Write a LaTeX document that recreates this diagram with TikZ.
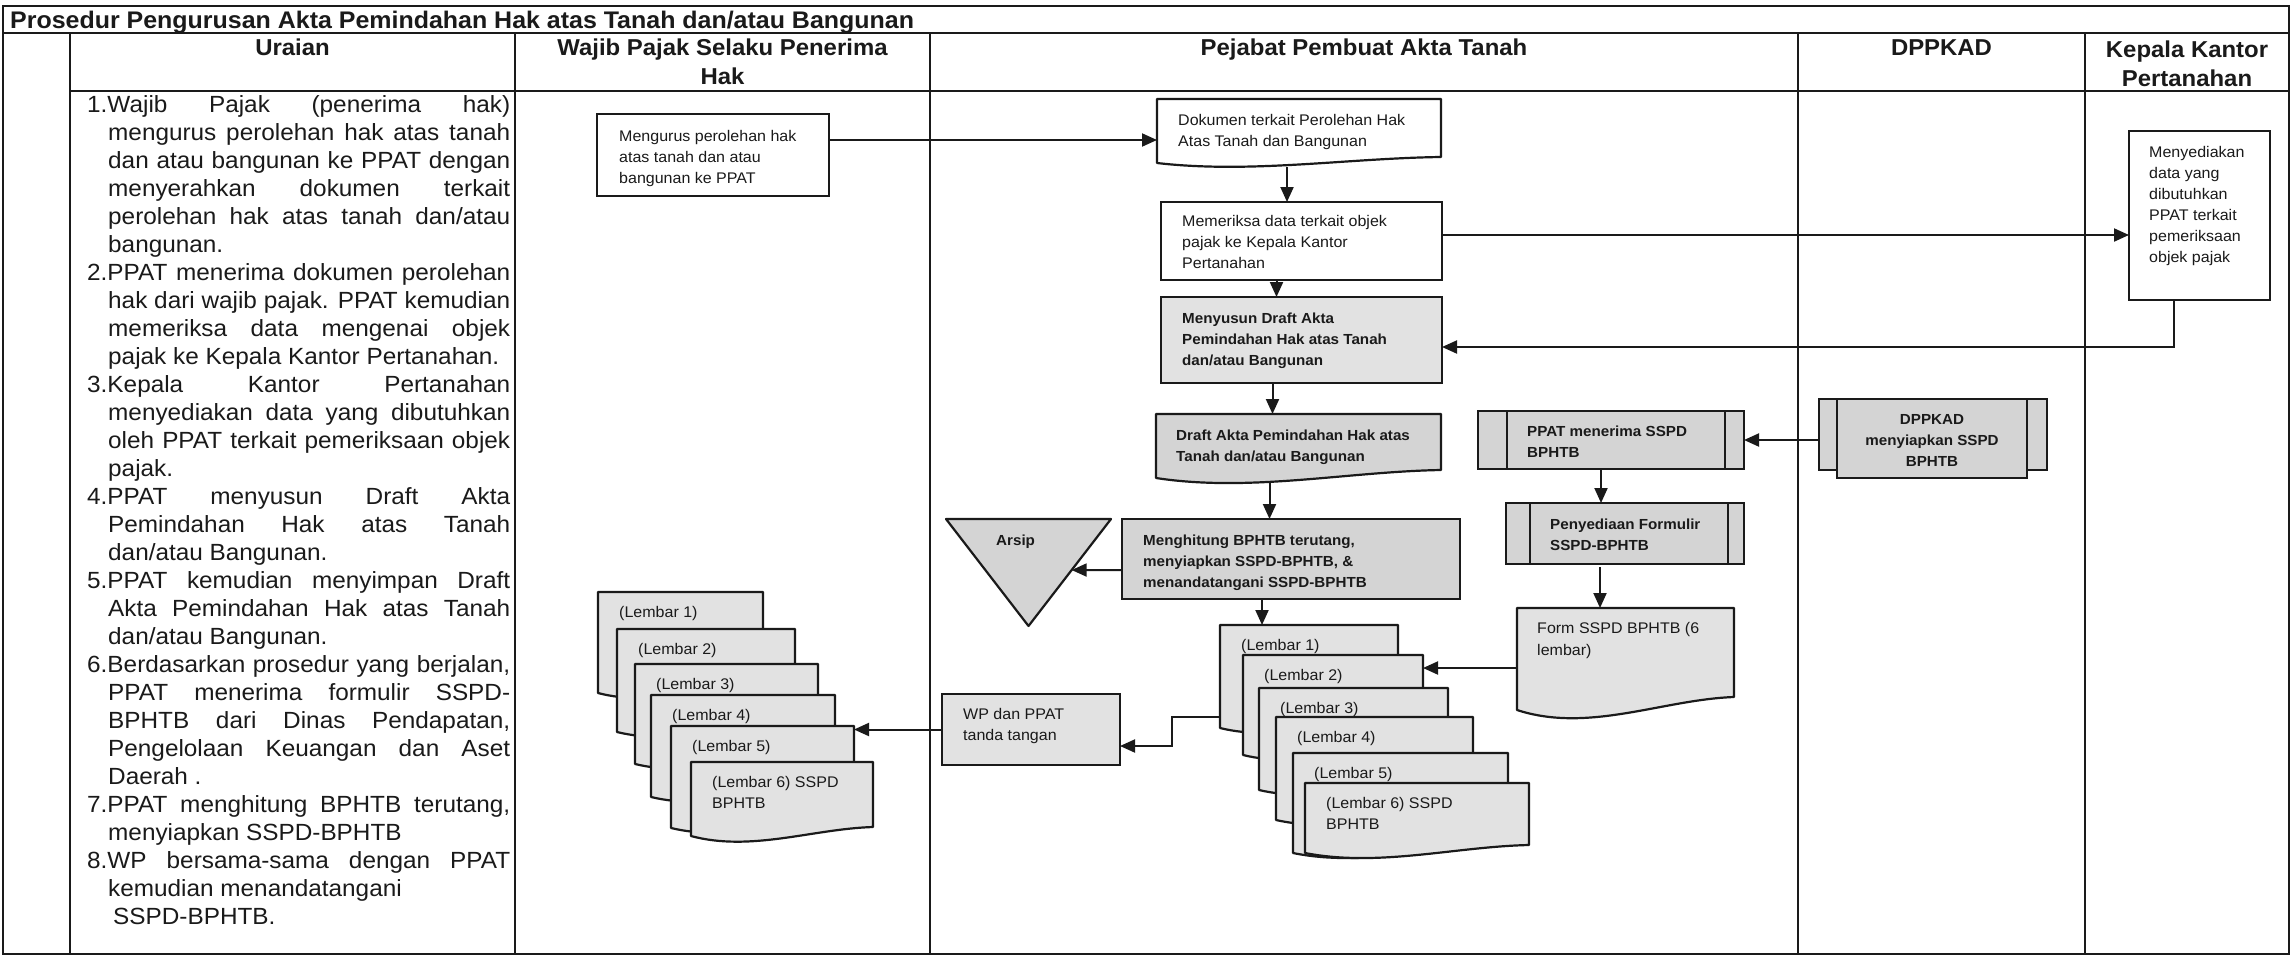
\documentclass[tikz,border=0pt]{standalone}
\usepackage{fontspec}
\setmainfont{Liberation Sans}[FakeStretch=1.04]
\usetikzlibrary{arrows.meta,calc,backgrounds}

\definecolor{ink}{HTML}{1A1A1A}
\definecolor{shade}{HTML}{D4D4D4}
\definecolor{shadelt}{HTML}{E2E2E2}

% document symbol with a wavy lower edge, drawn round a named frame node
\newcommand\docoutline[3]{%
  \path[docline,fill=#3] (#1.north west) -- (#1.north east)
    -- ($(#1.south east)+(0,-#2)$)
    .. controls ($(#1.south west)!0.67!(#1.south east)+(0,-0.8*#2)$)
       and ($(#1.south west)!0.33!(#1.south east)+(0,1.8*#2)$) .. (#1.south west) -- cycle;}

\newcommand\itemhang{\hangindent=21pt\hangafter=1\relax}

\begin{document}
\begin{tikzpicture}[x=1pt,y=-1pt,
  grid/.style={draw=ink,line width=2pt},
  frame/.style={inner sep=0pt,outer sep=0pt,anchor=north west},
  plainbox/.style={frame,draw=ink,line width=1.6pt,fill=white},
  shadebox/.style={frame,draw=ink,line width=2.2pt,fill=#1},
  shadebox/.default=shade,
  docline/.style={draw=ink,line width=2.2pt,line join=round},
  procline/.style={draw=ink,line width=2.2pt},
  txt/.style={inner sep=0pt,anchor=north west,align=left,text=ink,
              font=\fontsize{15.4}{21}\selectfont},
  txtb/.style={txt,font=\fontsize{14.6}{21}\selectfont\bfseries},
  head/.style={inner sep=0pt,text=ink,font=\fontsize{23}{29}\selectfont\bfseries},
  arr/.style={draw=ink,line width=2pt,-{Triangle[length=15pt,width=13pt]}},
]
\useasboundingbox (0,0) rectangle (2294,959);
\begin{scope}[on background layer]
  \fill[white] (0,0) rectangle (2294,959);
\end{scope}

% ---------- table ----------
\draw[grid] (3,6) rectangle (2289,954);
\draw[grid] (3,33) -- (2289,33);
\draw[grid] (70,91) -- (2289,91);
\foreach \x in {70,515,930,1798,2085} \draw[grid] (\x,33) -- (\x,954);

\node[head,anchor=base west,font=\fontsize{24}{30}\selectfont\bfseries] (title) at (10,28.5)
  {Prosedur Pengurusan Akta Pemindahan Hak atas Tanah dan/atau Bangunan};
\node[head,anchor=base] (h-uraian) at (292.5,55.5) {Uraian};
\node[head,anchor=north,align=center] (h-wp) at (722.5,39) {Wajib Pajak Selaku Penerima\\Hak};
\node[head,anchor=base] (h-ppat) at (1364,55.5) {Pejabat Pembuat Akta Tanah};
\node[head,anchor=base] (h-dppkad) at (1941.5,55.5) {DPPKAD};
\node[head,anchor=north,align=center] (h-kkp) at (2187,41) {Kepala Kantor\\Pertanahan};

% ---------- description column ----------
\node[anchor=north west,inner sep=0pt,text width=423pt,align=justify,text=ink,
      font=\fontsize{23.4}{28}\selectfont] (uraian) at (87,95) {%
\tolerance=10000 \hbadness=10000 \hyphenpenalty=10000 \exhyphenpenalty=10000
\parindent=0pt \parskip=0pt
\itemhang 1.Wajib Pajak (penerima hak)\linebreak
mengurus perolehan hak atas tanah\linebreak
dan atau bangunan ke PPAT dengan\linebreak
menyerahkan dokumen terkait\linebreak
perolehan hak atas tanah dan/atau\linebreak
bangunan.\par
\itemhang 2.PPAT menerima dokumen perolehan\linebreak
hak dari wajib pajak. PPAT kemudian\linebreak
memeriksa data mengenai objek\linebreak
pajak ke Kepala Kantor Pertanahan.\par
\itemhang 3.Kepala Kantor Pertanahan\linebreak
menyediakan data yang dibutuhkan\linebreak
oleh PPAT terkait pemeriksaan objek\linebreak
pajak.\par
\itemhang 4.PPAT menyusun Draft Akta\linebreak
Pemindahan Hak atas Tanah\linebreak
dan/atau Bangunan.\par
\itemhang 5.PPAT kemudian menyimpan Draft\linebreak
Akta Pemindahan Hak atas Tanah\linebreak
dan/atau Bangunan.\par
\itemhang 6.Berdasarkan prosedur yang berjalan,\linebreak
PPAT menerima formulir SSPD-\linebreak
BPHTB dari Dinas Pendapatan,\linebreak
Pengelolaan Keuangan dan Aset\linebreak
Daerah .\par
\itemhang 7.PPAT menghitung BPHTB terutang,\linebreak
menyiapkan SSPD-BPHTB\par
\itemhang 8.WP bersama-sama dengan PPAT\linebreak
kemudian menandatangani\newline
\hspace*{5pt}SSPD-BPHTB.\par};

% ---------- shapes ----------
\node[plainbox,minimum width=232pt,minimum height=82pt] (mengurus) at (597,114) {};
\node[frame,minimum width=284pt,minimum height=64pt] (dok) at (1157,99) {};
\node[plainbox,minimum width=281pt,minimum height=78pt] (periksa) at (1161,202) {};
\node[shadebox=shadelt,minimum width=281pt,minimum height=86pt] (susun) at (1161,297) {};
\node[frame,minimum width=285pt,minimum height=64pt] (draft) at (1156,414) {};
\node[shadebox,minimum width=338pt,minimum height=80pt] (hitung) at (1122,519) {};
\node[frame,minimum width=165pt,minimum height=107pt] (arsip) at (946,519) {};
\node[plainbox,minimum width=141pt,minimum height=169pt] (sedia) at (2129,131) {};
\node[shadebox,minimum width=266pt,minimum height=58pt] (terima) at (1478,411) {};
\node[shadebox,minimum width=238pt,minimum height=61pt] (formulir) at (1506,503) {};
\node[frame,minimum width=217pt,minimum height=102pt] (form) at (1517,608) {};
\node[shadebox,minimum width=228pt,minimum height=71pt] (dppkad) at (1819,399) {};
\node[shadebox=shadelt,minimum width=178pt,minimum height=71pt] (ttd) at (942,694) {};

% stacked copies of the form
\node[frame,minimum width=165pt,minimum height=101pt] (w1) at (598,592) {};
\node[frame,minimum width=178pt,minimum height=103pt] (w2) at (617,629) {};
\node[frame,minimum width=183pt,minimum height=100pt] (w3) at (635,664) {};
\node[frame,minimum width=184pt,minimum height=102pt] (w4) at (651,695) {};
\node[frame,minimum width=183pt,minimum height=102pt] (w5) at (671,726) {};
\node[frame,minimum width=182pt,minimum height=74pt]  (w6) at (691,762) {};
\node[frame,minimum width=178pt,minimum height=103pt] (p1) at (1220,625) {};
\node[frame,minimum width=180pt,minimum height=100pt] (p2) at (1243,655) {};
\node[frame,minimum width=189pt,minimum height=102pt] (p3) at (1259,688) {};
\node[frame,minimum width=197pt,minimum height=103pt] (p4) at (1276,717) {};
\node[frame,minimum width=215pt,minimum height=100pt] (p5) at (1293,753) {};
\node[frame,minimum width=224pt,minimum height=70pt]  (p6) at (1305,783) {};

% predefined-process side bars
\draw[procline] ([xshift=29pt]terima.north west) -- ([xshift=29pt]terima.south west);
\draw[procline] ([xshift=-19pt]terima.north east) -- ([xshift=-19pt]terima.south east);
\draw[procline] ([xshift=24pt]formulir.north west) -- ([xshift=24pt]formulir.south west);
\draw[procline] ([xshift=-16pt]formulir.north east) -- ([xshift=-16pt]formulir.south east);
\draw[procline,fill=shade] ([xshift=18pt]dppkad.north west) rectangle ([xshift=-20pt,yshift=-8pt]dppkad.south east);

\begin{scope}[on background layer]
  \docoutline{dok}{6}{white}
  \docoutline{draft}{8}{shade}
  \docoutline{form}{13}{shadelt}
  \foreach \n in {w1,w2,w3,w4,w5} {\docoutline{\n}{8}{shadelt}}
  \docoutline{w6}{9}{shadelt}
  \foreach \n in {p1,p2,p3,p4,p5,p6} {\docoutline{\n}{8}{shadelt}}
  \path[docline,fill=shade] (arsip.north west) -- (arsip.north east) -- (arsip.south) -- cycle;
\end{scope}

% ---------- texts ----------
\node[txt] (mengurus-t) at (619,130.3) {Mengurus perolehan hak\\atas tanah dan atau\\bangunan ke PPAT};
\node[txt] (dok-t) at (1178,114.3) {Dokumen terkait Perolehan Hak\\Atas Tanah dan Bangunan};
\node[txt] (periksa-t) at (1182,215.3) {Memeriksa data terkait objek\\pajak ke Kepala Kantor\\Pertanahan};
\node[txtb] (susun-t) at (1182,312.6) {Menyusun Draft Akta\\Pemindahan Hak atas Tanah\\dan/atau Bangunan};
\node[txtb] (draft-t) at (1176,429.6) {Draft Akta Pemindahan Hak atas\\Tanah dan/atau Bangunan};
\node[txtb] (hitung-t) at (1143,534.6) {Menghitung BPHTB terutang,\\menyiapkan SSPD-BPHTB, \&\\menandatangani SSPD-BPHTB};
\node[txtb] (arsip-t) at (996,534.6) {Arsip};
\node[txt] (sedia-t) at (2149,146.3) {Menyediakan\\data yang\\dibutuhkan\\PPAT terkait\\pemeriksaan\\objek pajak};
\node[txtb] (terima-t) at (1527,425.6) {PPAT menerima SSPD\\BPHTB};
\node[txtb] (formulir-t) at (1550,518.6) {Penyediaan Formulir\\SSPD-BPHTB};
\node[txt,font=\fontsize{15.4}{22}\selectfont] (form-t) at (1537,622.3) {Form SSPD BPHTB (6\\lembar)};
\node[txtb,anchor=north,align=center] (dppkad-t) at (1932,414.6) {DPPKAD\\menyiapkan SSPD\\BPHTB};
\node[txt] (ttd-t) at (963,708.3) {WP dan PPAT\\tanda tangan};

\foreach \s/\k in {w/1,w/2,w/3,w/4,w/5,p/1,p/2,p/3,p/4,p/5}
  \node[txt] (\s\k-t) at ([shift={(21,14.3)}]\s\k.north west) {(Lembar \k)};
\node[txt] (w6-t) at ([shift={(21,14.3)}]w6.north west) {(Lembar 6) SSPD\\BPHTB};
\node[txt] (p6-t) at ([shift={(21,14.3)}]p6.north west) {(Lembar 6) SSPD\\BPHTB};

% ---------- connectors ----------
\coordinate (a1) at ([yshift=15pt]mengurus.east);
\draw[arr] (a1) -- (a1 -| dok.west);
\coordinate (d1) at ([xshift=-12pt,yshift=-4pt]dok.south);
\draw[arr] (d1) -- (d1 |- periksa.north);
\coordinate (d2) at ([xshift=-25pt]periksa.south);
\draw[arr] (d2) -- (d2 |- susun.north);
\coordinate (d3) at ([xshift=-29pt]susun.south);
\draw[arr] (d3) -- (d3 |- draft.north);
\coordinate (d4) at ([xshift=-29pt,yshift=-4pt]draft.south);
\draw[arr] (d4) -- (d4 |- hitung.north);
\coordinate (d5) at ([xshift=-29pt]hitung.south);
\draw[arr] (d5) -- (d5 |- p1.north);

\coordinate (r1) at ([yshift=6pt]periksa.east);
\draw[arr] (r1) -- (r1 -| sedia.west);
\coordinate (r2) at ([xshift=-26pt]sedia.south);
\draw[arr] (r2) |- ([yshift=-7pt]susun.east);
\coordinate (r3) at ([yshift=-11pt]hitung.west);
\draw[arr] (r3) -- ($(arsip.north east)!0.477!(arsip.south)$);

\draw[arr] (dppkad.west |- terima.east) -- (terima.east);
\coordinate (t1) at ([xshift=-10pt]terima.south);
\draw[arr] (t1) -- (t1 |- formulir.north);
\coordinate (t2) at ([xshift=-25pt,yshift=-3pt]formulir.south);
\draw[arr] (t2) -- (t2 |- form.north);
\coordinate (t3) at ([yshift=-9pt]form.west);
\draw[arr] (t3) -- (t3 -| p2.east);

\coordinate (s1) at ([yshift=-40pt]p1.west);
\draw[arr] (s1) -- ++(-48,0) |- ([yshift=-16.5pt]ttd.east);
\draw[arr] (ttd.west) -- (ttd.west -| w5.east);
\end{tikzpicture}
\end{document}
